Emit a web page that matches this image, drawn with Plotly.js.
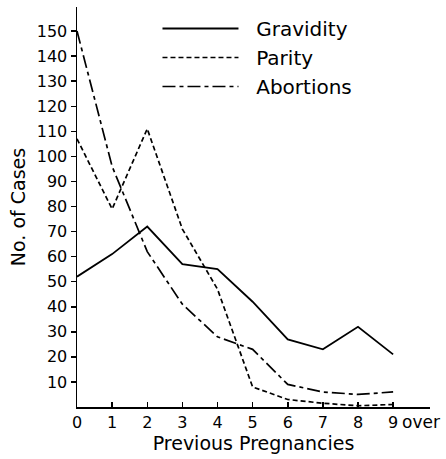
<!DOCTYPE html>
<html>
<head>
<meta charset="utf-8">
<script src="https://cdn.plot.ly/plotly-3.0.1.min.js"></script>
<style>html,body{margin:0;padding:0;background:#fff;}#chart{width:446px;height:459px;}</style>
</head>
<body>
<div id="chart"></div>
<script>
// Data
const pregnancies = [0, 1, 2, 3, 4, 5, 6, 7, 8, 9];
const gravidity = [52, 61, 72, 57, 55, 42, 27, 23, 32, 21];
const parity = [107, 79, 111, 71, 47, 8, 3, 1.5, 0.5, 1];
const abortions = [150, 96, 62, 41, 28, 23, 9, 6, 5, 6];
const seriesNames = ['Gravidity', 'Parity', 'Abortions'];
const xTickVals = [0, 1, 2, 3, 4, 5, 6, 7, 8, 9];
const xTickText = ['0', '1', '2', '3', '4', '5', '6', '7', '8', '9'];
const yTickVals = [10, 20, 30, 40, 50, 60, 70, 80, 90, 100, 110, 120, 130, 140, 150];

const FONT = 'DejaVu Sans, sans-serif';
const PAD = '\u00a0\u00a0';

const traces = [
  {x: pregnancies, y: gravidity, name: PAD + seriesNames[0], mode: 'lines',
   line: {color: '#000', width: 1.8, dash: 'solid'}},
  {x: pregnancies, y: parity, name: PAD + seriesNames[1], mode: 'lines',
   line: {color: '#000', width: 1.7, dash: '5px,3px'}},
  {x: pregnancies, y: abortions, name: PAD + seriesNames[2], mode: 'lines',
   line: {color: '#000', width: 1.7, dash: '13px,4px,4px,4px'}}
];

const layout = {
  width: 446, height: 459,
  margin: {l: 77, r: 16, t: 7, b: 52},
  paper_bgcolor: '#fff', plot_bgcolor: '#fff',
  font: {family: FONT, color: '#000', size: 16},
  showlegend: true,
  legend: {x: 0.228, y: 0.995, xanchor: 'left', yanchor: 'top',
           font: {family: FONT, size: 20, color: '#000'},
           itemwidth: 76, bgcolor: 'rgba(0,0,0,0)', borderwidth: 0},
  xaxis: {
    range: [0, 10.05], showgrid: false, zeroline: false,
    showline: true, linecolor: '#000', linewidth: 1.5,
    ticks: 'inside', ticklen: 5, tickwidth: 1.5, tickcolor: '#000',
    tickmode: 'array', tickvals: xTickVals, ticktext: xTickText,
    tickfont: {family: FONT, size: 16, color: '#000'},
    title: {text: 'Previous Pregnancies', font: {family: FONT, size: 19, color: '#000'}, standoff: 3}
  },
  yaxis: {
    range: [0, 159.6], showgrid: false, zeroline: false,
    showline: true, linecolor: '#000', linewidth: 1.5,
    ticks: 'outside', ticklen: 5, tickwidth: 1.5, tickcolor: '#000',
    tickmode: 'array', tickvals: yTickVals,
    tickfont: {family: FONT, size: 16, color: '#000'},
    title: {text: 'No. of Cases', font: {family: FONT, size: 19, color: '#000'}, standoff: 6}
  },
  annotations: [
    {x: 9, y: 0, xref: 'x', yref: 'y', text: 'over', showarrow: false,
     xanchor: 'left', yanchor: 'top', xshift: 7, yshift: -3,
     font: {family: FONT, size: 17, color: '#000'}}
  ]
};

Plotly.newPlot('chart', traces, layout, {displayModeBar: false, staticPlot: true});
</script>
</body>
</html>
